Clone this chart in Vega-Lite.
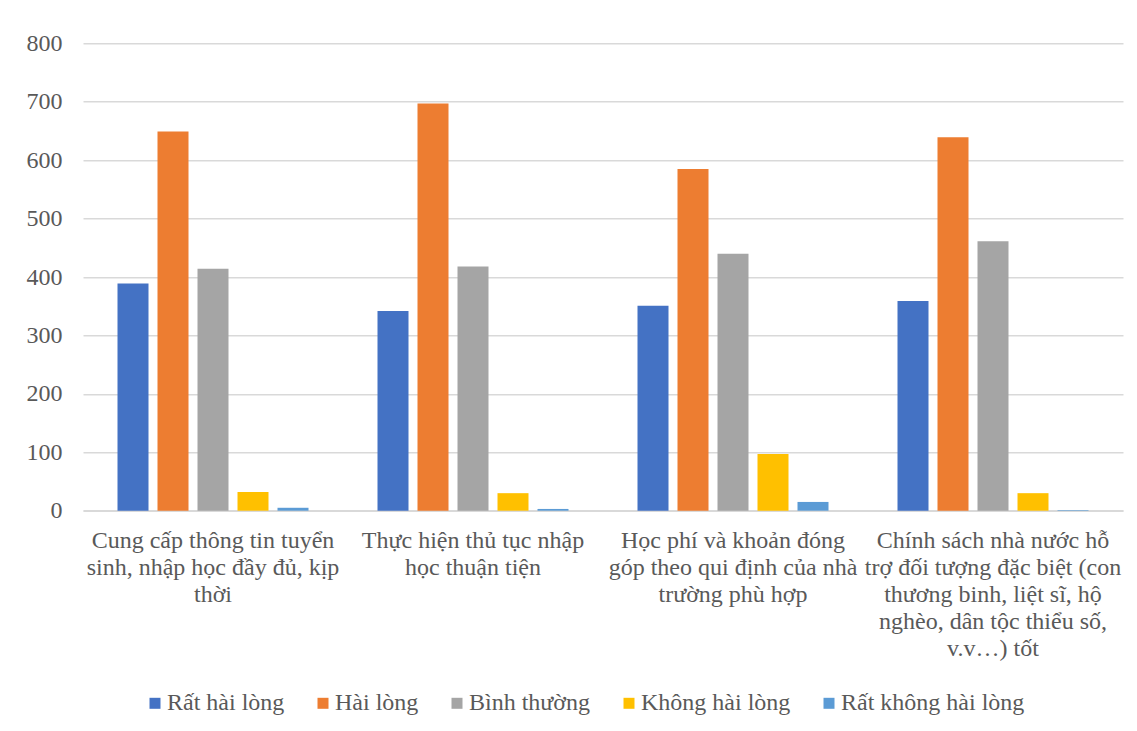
{
  "$schema": "https://vega.github.io/schema/vega-lite/v6.json",
  "autosize": {"type": "none"},
  "width": 1040,
  "height": 467.4,
  "padding": {"left": 83, "top": 43.3, "right": 14, "bottom": 220.3},
  "background": "#ffffff",
  "config": {
    "font": "Liberation Serif",
    "view": {"stroke": null},
    "axis": {
      "labelFont": "Liberation Serif",
      "labelFontSize": 24,
      "labelColor": "#595959",
      "ticks": false,
      "title": null
    },
    "legend": {
      "labelFont": "Liberation Serif",
      "labelFontSize": 24,
      "labelColor": "#595959",
      "padding": 0
    }
  },
  "data": {
    "values": [
      {"tieu_chi": "Cung cấp thông tin tuyển sinh, nhập học đầy đủ, kịp thời", "muc_do": "Rất hài lòng", "so_luong": 389},
      {"tieu_chi": "Cung cấp thông tin tuyển sinh, nhập học đầy đủ, kịp thời", "muc_do": "Hài lòng", "so_luong": 649},
      {"tieu_chi": "Cung cấp thông tin tuyển sinh, nhập học đầy đủ, kịp thời", "muc_do": "Bình thường", "so_luong": 414},
      {"tieu_chi": "Cung cấp thông tin tuyển sinh, nhập học đầy đủ, kịp thời", "muc_do": "Không hài lòng", "so_luong": 32},
      {"tieu_chi": "Cung cấp thông tin tuyển sinh, nhập học đầy đủ, kịp thời", "muc_do": "Rất không hài lòng", "so_luong": 5},
      {"tieu_chi": "Thực hiện thủ tục nhập học thuận tiện", "muc_do": "Rất hài lòng", "so_luong": 342},
      {"tieu_chi": "Thực hiện thủ tục nhập học thuận tiện", "muc_do": "Hài lòng", "so_luong": 697},
      {"tieu_chi": "Thực hiện thủ tục nhập học thuận tiện", "muc_do": "Bình thường", "so_luong": 418},
      {"tieu_chi": "Thực hiện thủ tục nhập học thuận tiện", "muc_do": "Không hài lòng", "so_luong": 30},
      {"tieu_chi": "Thực hiện thủ tục nhập học thuận tiện", "muc_do": "Rất không hài lòng", "so_luong": 3},
      {"tieu_chi": "Học phí và khoản đóng góp theo qui định của nhà trường phù hợp", "muc_do": "Rất hài lòng", "so_luong": 351},
      {"tieu_chi": "Học phí và khoản đóng góp theo qui định của nhà trường phù hợp", "muc_do": "Hài lòng", "so_luong": 585},
      {"tieu_chi": "Học phí và khoản đóng góp theo qui định của nhà trường phù hợp", "muc_do": "Bình thường", "so_luong": 440},
      {"tieu_chi": "Học phí và khoản đóng góp theo qui định của nhà trường phù hợp", "muc_do": "Không hài lòng", "so_luong": 97},
      {"tieu_chi": "Học phí và khoản đóng góp theo qui định của nhà trường phù hợp", "muc_do": "Rất không hài lòng", "so_luong": 15},
      {"tieu_chi": "Chính sách nhà nước hỗ trợ đối tượng đặc biệt (con thương binh, liệt sĩ, hộ nghèo, dân tộc thiểu số, v.v…) tốt", "muc_do": "Rất hài lòng", "so_luong": 359},
      {"tieu_chi": "Chính sách nhà nước hỗ trợ đối tượng đặc biệt (con thương binh, liệt sĩ, hộ nghèo, dân tộc thiểu số, v.v…) tốt", "muc_do": "Hài lòng", "so_luong": 639},
      {"tieu_chi": "Chính sách nhà nước hỗ trợ đối tượng đặc biệt (con thương binh, liệt sĩ, hộ nghèo, dân tộc thiểu số, v.v…) tốt", "muc_do": "Bình thường", "so_luong": 461},
      {"tieu_chi": "Chính sách nhà nước hỗ trợ đối tượng đặc biệt (con thương binh, liệt sĩ, hộ nghèo, dân tộc thiểu số, v.v…) tốt", "muc_do": "Không hài lòng", "so_luong": 30},
      {"tieu_chi": "Chính sách nhà nước hỗ trợ đối tượng đặc biệt (con thương binh, liệt sĩ, hộ nghèo, dân tộc thiểu số, v.v…) tốt", "muc_do": "Rất không hài lòng", "so_luong": 1}
    ]
  },
  "mark": {"type": "bar"},
  "encoding": {
    "x": {
      "field": "tieu_chi",
      "type": "nominal",
      "sort": null,
      "scale": {"paddingInner": 0, "paddingOuter": 0},
      "axis": {
        "labelAngle": 0,
        "labelAlign": "center",
        "labelBaseline": "top",
        "labelPadding": 18,
        "labelLineHeight": 27,
        "labelLimit": 0,
        "labelOverlap": false,
        "labelBound": false,
        "domain": true,
        "domainColor": "#D9D9D9",
        "domainWidth": 1.5,
        "grid": false,
        "labelExpr": "datum.value == 'Cung cấp thông tin tuyển sinh, nhập học đầy đủ, kịp thời' ? ['Cung cấp thông tin tuyển', 'sinh, nhập học đầy đủ, kịp', 'thời'] : datum.value == 'Thực hiện thủ tục nhập học thuận tiện' ? ['Thực hiện thủ tục nhập', 'học thuận tiện'] : datum.value == 'Học phí và khoản đóng góp theo qui định của nhà trường phù hợp' ? ['Học phí và khoản đóng', 'góp theo qui định của nhà', 'trường phù hợp'] : ['Chính sách nhà nước hỗ', 'trợ đối tượng đặc biệt (con', 'thương binh, liệt sĩ, hộ', 'nghèo, dân tộc thiểu số,', 'v.v…) tốt']"
      }
    },
    "xOffset": {
      "field": "muc_do",
      "type": "nominal",
      "sort": ["Rất hài lòng", "Hài lòng", "Bình thường", "Không hài lòng", "Rất không hài lòng"],
      "scale": {"paddingInner": 0.225, "paddingOuter": 0.8625}
    },
    "y": {
      "field": "so_luong",
      "type": "quantitative",
      "scale": {"domain": [0, 800], "nice": false},
      "axis": {
        "values": [0, 100, 200, 300, 400, 500, 600, 700, 800],
        "domain": false,
        "grid": true,
        "gridColor": "#D9D9D9",
        "gridWidth": 1.5,
        "labelPadding": 21
      }
    },
    "color": {
      "field": "muc_do",
      "type": "nominal",
      "scale": {
        "domain": ["Rất hài lòng", "Hài lòng", "Bình thường", "Không hài lòng", "Rất không hài lòng"],
        "range": ["#4472C4", "#ED7D31", "#A5A5A5", "#FFC000", "#5B9BD5"]
      },
      "legend": {
        "title": null,
        "orient": "none",
        "direction": "horizontal",
        "legendX": 60,
        "legendY": 648,
        "symbolType": "square",
        "symbolSize": 121,
        "symbolStrokeWidth": 0,
        "labelOffset": 0,
        "labelLimit": 0,
        "columnPadding": 26
      }
    }
  }
}
